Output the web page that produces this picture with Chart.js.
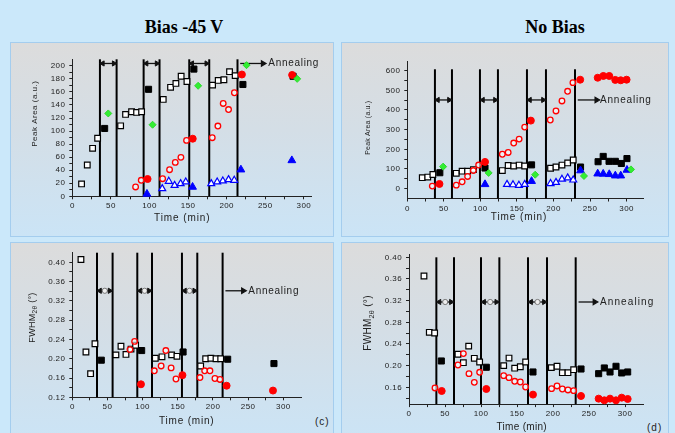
<!DOCTYPE html>
<html>
<head>
<meta charset="utf-8">
<script src="https://cdn.jsdelivr.net/npm/chart.js@4.4.1/dist/chart.umd.min.js"></script>
<style>
  body { margin: 0; width: 675px; height: 433px; overflow: hidden; background: #cbe8fa; position: relative; }
  .panel { position: absolute; box-sizing: border-box; border: 1px solid #a4cdee;
           background: linear-gradient(to bottom, #dcdcdc 0%, #d4dee6 45%, #cbe4f6 100%); }
  .head { position: absolute; top: 17px; font: bold 18px "Liberation Serif", serif; color: #000;
          transform: translateX(-50%); white-space: nowrap; }
  .tag { position: absolute; font: 10px "Liberation Sans", sans-serif; letter-spacing: 1px; color: #222; }
  canvas { position: absolute; left: 0; top: 0; }
</style>
</head>
<body>
<div class="panel" style="left:10px;top:42px;width:324px;height:195px"></div>
<div class="panel" style="left:341px;top:42px;width:328px;height:195px"></div>
<div class="panel" style="left:10px;top:242px;width:324px;height:200px"></div>
<div class="panel" style="left:341px;top:242px;width:328px;height:200px"></div>
<div class="head" style="left:184px">Bias -45 V</div>
<div class="head" style="left:555px">No Bias</div>
<div class="tag" style="left:315px;top:416px">(c)</div>
<div class="tag" style="left:647px;top:422px">(d)</div>
<canvas id="ca" width="675" height="433"></canvas>
<canvas id="cb" width="675" height="433"></canvas>
<canvas id="cc" width="675" height="433"></canvas>
<canvas id="cd" width="675" height="433"></canvas>
<script>
// shared time axis
const xTickValues = [0, 25, 50, 75, 100, 125, 150, 175, 200, 225, 250, 275, 300];
const xTickLabels = [0, 50, 100, 150, 200, 250, 300];

// (a) Bias -45 V, peak area
const aOpenSquares = [[12,19],[19.4,48],[26.3,73.5],[32.8,89],[62.6,108],[69,125.5],[76.8,129.6],[83.3,128.6],[89.8,129.6],
  [117.8,148.5],[127.3,167],[134.2,173],[141,184],[148.5,176],[181.7,170.4],[189,177.6],[196.4,178.6],[203.7,191],[211,185]];
const aFilledSquares = [[41.9,104],[98.8,164],[157.5,195],[221,171.4],[286,184]];
const aOpenCircles = [[82,14.3],[89.3,24.5],[117,27],[126,40.8],[133.4,52],[140.7,59.7],[148,85.7],
  [181.3,89.8],[188.6,107.7],[195.5,142.3],[202.4,133],[210,158.7]];
const aFilledCircles = [[97.5,26.5],[156,88.3],[219.7,186.7],[284.8,186]];
const aOpenTriangles = [[116.5,11.7],[125,23],[132.5,16.8],[140.3,19.4],[147,22],[180,19.4],[187.7,22],[195,23.5],[202.4,25.5],[209.8,24.5]];
const aFilledTriangles = [[96.7,3.6],[155.8,14.3],[218.4,40.8],[284.4,55]];
const aGreen = [[46.6,127],[104,109.7],[163,169.4],[225.7,201],[291.3,180]];
const aLines = [35.8, 57.4, 92.4, 113, 151.5, 177.4, 214];
const aYTicks = [0,10,20,30,40,50,60,70,80,90,100,110,120,130,140,150,160,170,180,190,200];
const aYLabels = [0,20,40,60,80,100,120,140,160,180,200];

// (b) No bias, peak area
const bOpenSquares = [[20.5,56],[28,59],[35,72],[67,78],[75,89],[82.5,89],[90.5,97],[130,92],[138,118],[145.6,115],[153,120],[160.6,115],
  [196,104],[203.4,110],[211.6,120],[219.4,131],[227,146]];
const bFilledSquares = [[44.5,81],[106.3,105],[170,121],[237,110],[261,137],[268,164],[276,139],[284.6,139],[292.8,128],[300.5,153]];
const bOpenCircles = [[34.2,13],[67,18],[75,35],[82.5,62],[90.3,92],[97.6,120],[130,175],[138,184],[145.6,232],[153,252],[160.6,313],
  [195.6,349],[203.4,395],[211.6,446],[219.3,495],[226.6,539]];
const bFilledCircles = [[44,24],[106.3,136],[169,346],[236.5,554],[260.5,564],[268.2,573],[276.3,573],[284.5,553],[292,551],[300,554]];
const bOpenTriangles = [[136.4,22],[144.6,20],[152.7,17],[160.6,22],[196,26],[203.4,32],[211.6,48],[219.4,55],[227,44]];
const bFilledTriangles = [[106.3,22],[170,38],[237,92],[260.5,76],[268,75],[276.3,73],[284.6,66],[292,66],[300.5,95]];
const bGreen = [[49,112],[111.3,80],[175,71],[241.7,64.5],[306,98]];
const bLines = [37.8, 61.1, 99.4, 124, 163.7, 189.7, 229.4];
const bYTicks = [0,50,100,150,200,250,300,350,400,450,500,550,600];
const bYLabels = [0,100,200,300,400,500,600];

// (c) Bias -45 V, FWHM
const cOpenSquares = [[12.3,0.406],[19.4,0.214],[26,0.169],[32.2,0.231],[62,0.208],[69.2,0.226],[76.3,0.209],[83.5,0.220],[90,0.228],
  [118,0.201],[127.5,0.204],[141.2,0.208],[148.8,0.205],[182.5,0.185],[189.6,0.200],[197,0.201],[204.3,0.200],[211,0.200]];
const cFilledSquares = [[41.2,0.197],[98.6,0.217],[157.5,0.214],[220.9,0.199],[286.7,0.190]];
const cOpenCircles = [[82,0.219],[88.6,0.236],[116.6,0.175],[126.3,0.185],[133,0.217],[140.5,0.181],[147.4,0.158],
  [181.5,0.161],[188.2,0.175],[195.7,0.175],[202.8,0.159],[210,0.157]];
const cFilledCircles = [[97.6,0.147],[156.6,0.166],[219.4,0.144],[285.3,0.134]];
const cLines = [35.1, 57.3, 92.4, 113.3, 155.9, 177.7, 213.7];
const cYTicks = [0.12,0.14,0.16,0.18,0.20,0.22,0.24,0.26,0.28,0.30,0.32,0.34,0.36,0.38,0.40];
const cYLabels = [0.12,0.16,0.20,0.24,0.28,0.32,0.36,0.40];

// (d) No bias, FWHM
const dOpenSquares = [[20.8,0.3655],[28.2,0.2615],[35.6,0.2603],[68,0.221],[75.5,0.2055],[82.9,0.236],[90.7,0.2135],[98.1,0.2068],
  [131.5,0.200],[138.9,0.214],[146.8,0.1953],[154.6,0.198],[162,0.2068],[197.7,0.1963],[205.6,0.1988],[213,0.187],[220.8,0.187],[228.7,0.1926]];
const dFilledSquares = [[44.9,0.2086],[107.4,0.197],[172.2,0.1883],[238.9,0.1938],[263.4,0.1852],[271.3,0.1957],[279.2,0.1883],[287.5,0.1988],[295.4,0.1865],[303.7,0.1883]];
const dOpenCircles = [[36.1,0.1588],[68,0.2012],[75.5,0.2222],[83.3,0.1852],[90.7,0.1692],[98.1,0.1877],[131.5,0.1815],[138.9,0.1778],
  [146.8,0.1711],[154.6,0.1698],[162,0.1606],[198,0.1575],[205.6,0.1625],[213,0.1569],[220.8,0.1551],[228.7,0.1538]];
const dFilledCircles = [[45.4,0.1532],[107.4,0.1569],[172.2,0.1465],[238.9,0.144],[263.4,0.1391],[271.3,0.136],[279.2,0.1391],[287.5,0.136],[295.4,0.1409],[303.7,0.1385]];
const dLines = [38, 62.5, 100, 125.5, 165.3, 191.7, 231.5];
const dYTicks = [0.14,0.16,0.18,0.20,0.22,0.24,0.26,0.28,0.30,0.32,0.34,0.36,0.38,0.40];
const dYLabels = [0.16,0.20,0.24,0.28,0.32,0.36,0.40];

Chart.defaults.font.family = '"Liberation Sans", Arial, sans-serif';
Chart.defaults.color = '#222';

const markers = {
  green:    { pointStyle: 'rectRot', pointRadius: 3.5, pointBackgroundColor: '#33ee33', pointBorderColor: '#2bd82b', pointBorderWidth: 1 },
  fillCirc: { pointStyle: 'circle', pointRadius: 3.5, pointBackgroundColor: '#ff0000', pointBorderColor: '#ff0000', pointBorderWidth: 1 },
  openCirc: { pointStyle: 'circle', pointRadius: 2.8, pointBackgroundColor: 'rgba(255,255,255,0.6)', pointBorderColor: '#ff0000', pointBorderWidth: 1.3 },
  fillTri:  { pointStyle: 'triangle', pointRadius: 4.5, pointBackgroundColor: '#0000ff', pointBorderColor: '#0000ff', pointBorderWidth: 1 },
  openTri:  { pointStyle: 'triangle', pointRadius: 4, pointBackgroundColor: '#ffffff', pointBorderColor: '#0000ff', pointBorderWidth: 1.2 },
  fillSq:   { pointStyle: 'rect', pointRadius: 4.3, pointBackgroundColor: '#000000', pointBorderColor: '#000000', pointBorderWidth: 1 },
  openSq:   { pointStyle: 'rect', pointRadius: 4, pointBackgroundColor: '#ffffff', pointBorderColor: '#000000', pointBorderWidth: 1.2 }
};

const toPts = arr => arr.map(p => ({ x: p[0], y: p[1] }));

// draws "Annealing", axis titles
const decoPlugin = {
  id: 'deco',
  beforeDraw(chart) { chart.ctx.letterSpacing = '0.4px'; },
  afterDatasetsDraw(chart, args, o) {
    const { ctx, scales: { x, y } } = chart;
    ctx.save();
    ctx.fillStyle = '#222';
    ctx.textBaseline = 'middle';
    ctx.letterSpacing = o.annealSpacing + 'px';
    ctx.font = '10px "Liberation Sans"';
    ctx.textAlign = 'left';
    ctx.fillText('Annealing', x.getPixelForValue(o.annealText), y.getPixelForValue(o.arrowY));

    ctx.letterSpacing = o.xTitleSpacing + 'px';
    ctx.font = o.xTitleSize + 'px "Liberation Sans"';
    ctx.textAlign = 'center';
    ctx.fillText('Time (min)', o.xTitlePos[0], o.xTitlePos[1]);

    // rotated y title, parts allow a subscript
    ctx.translate(o.yTitlePos[0], o.yTitlePos[1]);
    ctx.rotate(-Math.PI / 2);
    ctx.textAlign = 'left';
    ctx.letterSpacing = o.yTitleSpacing + 'px';
    let total = 0;
    o.yTitle.forEach(p => { ctx.font = p.size + 'px "Liberation Sans"'; total += ctx.measureText(p.t).width; });
    let cx = -total / 2;
    o.yTitle.forEach(p => {
      ctx.font = p.size + 'px "Liberation Sans"';
      ctx.fillText(p.t, cx, p.dy || 0);
      cx += ctx.measureText(p.t).width;
    });
    ctx.restore();
  }
};

function buildPanel(id, p) {
  const datasets = [];
  const series = [['green', p.green], ['fillCirc', p.fillCirc], ['openCirc', p.openCirc], ['fillTri', p.fillTri],
                  ['openTri', p.openTri], ['fillSq', p.fillSq], ['openSq', p.openSq]];
  series.forEach(([k, arr]) => {
    if (!arr) return;
    datasets.push(Object.assign({ data: toPts(arr), clip: false }, markers[k]));
  });

  // double arrows between line pairs
  const pad = p.arrowPad;
  for (let i = 0; i < 6; i += 2) {
    const t1 = p.lines[i] + pad, t2 = p.lines[i + 1] - pad;
    const pts = p.midRing ? [t1, (t1 + t2) / 2, t2] : [t1, t2];
    datasets.push({
      data: pts.map(t => ({ x: t, y: p.arrowY })), showLine: true, borderColor: '#111', borderWidth: 1.3, clip: false,
      pointStyle: p.midRing ? ['triangle', 'circle', 'triangle'] : 'triangle',
      pointRadius: p.midRing ? [3, 2.6, 3] : 3,
      pointRotation: p.midRing ? [-90, 0, 90] : [-90, 90],
      pointBackgroundColor: p.midRing ? ['#111', '#eee', '#111'] : '#111',
      pointBorderColor: p.midRing ? ['#111', '#777', '#111'] : '#111',
      pointBorderWidth: 1
    });
  }
  // annealing arrow
  datasets.push({
    data: [{ x: p.lines[6] + pad, y: p.arrowY }, { x: p.annealEnd, y: p.arrowY }], showLine: true,
    borderColor: '#111', borderWidth: 1.3, clip: false,
    pointStyle: 'triangle', pointRadius: [0, 3], pointRotation: 90, pointBackgroundColor: '#111', pointBorderColor: '#111'
  });
  // vertical separators
  p.lines.forEach(t => {
    datasets.push({
      data: [{ x: t, y: p.yMin }, { x: t, y: p.lineTop }], showLine: true,
      borderColor: '#000', borderWidth: 2, pointRadius: 0, clip: false
    });
  });

  const YW = 30, XH = 20;
  new Chart(document.getElementById(id), {
    type: 'scatter',
    data: { datasets },
    options: {
      responsive: false, animation: false, devicePixelRatio: 1,
      events: [],
      layout: { padding: { left: p.area[0] - YW, top: p.area[1], right: 675 - p.area[2], bottom: 433 - p.area[3] - XH } },
      plugins: {
        legend: { display: false }, tooltip: { enabled: false },
        deco: p.deco
      },
      scales: {
        x: {
          type: 'linear', min: 0, max: p.xMax,
          afterFit: s => { s.height = XH; },
          afterBuildTicks: s => { s.ticks = xTickValues.map(v => ({ value: v })); },
          grid: { drawOnChartArea: false, tickLength: 3, color: '#222' },
          border: { color: '#222', width: 1 },
          ticks: { autoSkip: false, maxRotation: 0, padding: 2, font: { size: 8 },
                   callback: v => xTickLabels.includes(v) ? String(v) : '' }
        },
        y: {
          type: 'linear', min: p.yMin, max: p.yMax,
          afterFit: s => { s.width = YW; },
          afterBuildTicks: s => { s.ticks = p.yTicks.map(v => ({ value: v })); },
          grid: { drawOnChartArea: false, tickLength: 3, color: '#222' },
          border: { color: '#222', width: 1 },
          ticks: { autoSkip: false, padding: 4, font: { size: 8 },
                   callback: v => p.yLabels.includes(v) ? p.fmt(v) : '' }
        }
      }
    },
    plugins: [decoPlugin]
  });
}

const peakTitle = s => [{ t: 'Peak Area (a.u.)', size: s }];
const fwhmTitle = s => [{ t: 'FWHM', size: s }, { t: '2θ', size: s * 0.72, dy: s * 0.35 }, { t: ' (°)', size: s }];

buildPanel('ca', {
  area: [72.3, 59.3, 311.6, 196.3], xMax: 310, yMin: 0, yMax: 210, lineTop: 210,
  yTicks: aYTicks, yLabels: aYLabels, fmt: v => String(v),
  openSq: aOpenSquares, fillSq: aFilledSquares, openCirc: aOpenCircles, fillCirc: aFilledCircles,
  openTri: aOpenTriangles, fillTri: aFilledTriangles, green: aGreen,
  lines: aLines, arrowY: 203.6, arrowPad: 3.5, annealEnd: 247,
  deco: { annealText: 253.9, arrowY: 203.6, annealSpacing: 0.7, xTitlePos: [182.3, 218.3], xTitleSize: 10, xTitleSpacing: 0.9,
          yTitlePos: [35, 113.7], yTitle: peakTitle(8), yTitleSpacing: 0.5 }
});

buildPanel('cb', {
  area: [407.3, 61.8, 643.4, 198.5], xMax: 323, yMin: -50, yMax: 645, lineTop: 607,
  yTicks: bYTicks, yLabels: bYLabels, fmt: v => String(v),
  openSq: bOpenSquares, fillSq: bFilledSquares, openCirc: bOpenCircles, fillCirc: bFilledCircles,
  openTri: bOpenTriangles, fillTri: bFilledTriangles, green: bGreen,
  lines: bLines, arrowY: 451, arrowPad: 3.8, annealEnd: 259,
  deco: { annealText: 263.6, arrowY: 451, annealSpacing: 0.8, xTitlePos: [519, 217.7], xTitleSize: 10, xTitleSpacing: 0.9,
          yTitlePos: [368.3, 127.7], yTitle: peakTitle(7), yTitleSpacing: 0.2 }
});

buildPanel('cc', {
  area: [72.3, 252.7, 301.6, 397.3], xMax: 326, yMin: 0.12, yMax: 0.42, lineTop: 0.42,
  yTicks: cYTicks, yLabels: cYLabels, fmt: v => v.toFixed(2),
  openSq: cOpenSquares, fillSq: cFilledSquares, openCirc: cOpenCircles, fillCirc: cFilledCircles,
  lines: cLines, arrowY: 0.341, arrowPad: 4, annealEnd: 243, midRing: true,
  deco: { annealText: 250.3, arrowY: 0.341, annealSpacing: 0.7, xTitlePos: [186.7, 421.7], xTitleSize: 10, xTitleSpacing: 0.8,
          yTitlePos: [32.3, 317.5], yTitle: fwhmTitle(9), yTitleSpacing: 0.3 }
});

buildPanel('cd', {
  area: [409, 254.6, 643, 404.1], xMax: 325, yMin: 0.129, yMax: 0.405, lineTop: 0.40,
  yTicks: dYTicks, yLabels: dYLabels, fmt: v => v.toFixed(2),
  openSq: dOpenSquares, fillSq: dFilledSquares, openCirc: dOpenCircles, fillCirc: dFilledCircles,
  lines: dLines, arrowY: 0.3175, arrowPad: 4, annealEnd: 258, midRing: true,
  deco: { annealText: 265.3, arrowY: 0.3175, annealSpacing: 1.1, xTitlePos: [521.7, 427.7], xTitleSize: 10, xTitleSpacing: 0.3,
          yTitlePos: [368.3, 323], yTitle: fwhmTitle(10), yTitleSpacing: 0.3 }
});
</script>
</body>
</html>
